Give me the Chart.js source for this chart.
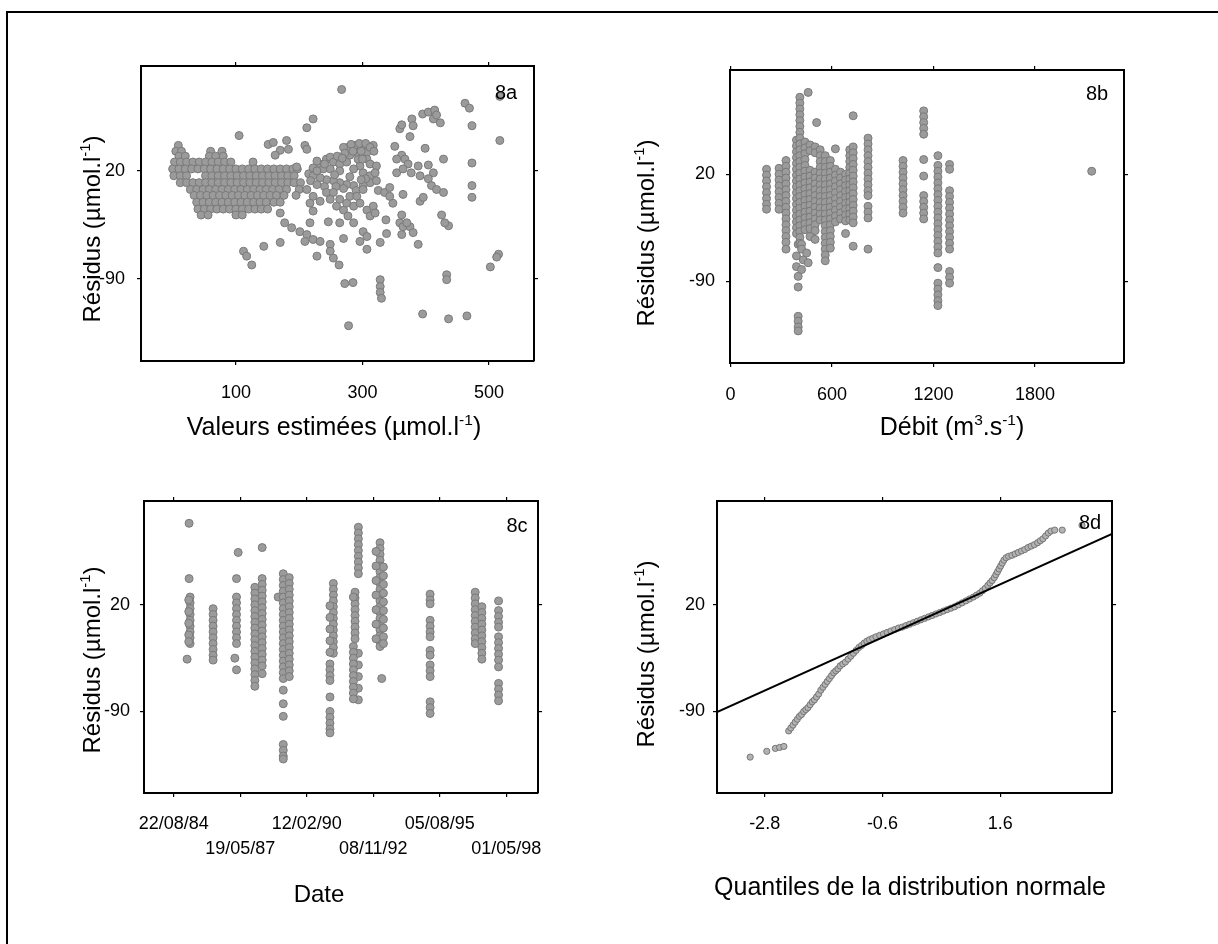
<!DOCTYPE html>
<html>
<head>
<meta charset="utf-8">
<script src="https://cdn.jsdelivr.net/npm/chart.js@4.4.1/dist/chart.umd.min.js"></script>
<style>
  html, body { margin: 0; padding: 0; background: #fff; }
  #page { position: relative; width: 1218px; height: 944px; overflow: hidden; background: #fff; }
  #page canvas { position: absolute; left: 0; top: 0; }
  #frame { position: absolute; left: 6px; top: 11px; width: 1240px; height: 960px; border-left: 2px solid #000; border-top: 2px solid #000; }
</style>
</head>
<body>
<div id="page">
  <div id="frame"></div>
  <canvas id="c8a" width="1218" height="944"></canvas>
  <canvas id="c8b" width="1218" height="944"></canvas>
  <canvas id="c8c" width="1218" height="944"></canvas>
  <canvas id="c8d" width="1218" height="944"></canvas>
</div>
<script>
// ---- data (residuals in µmol/l) ----
const residTicks = [20, -90];
const residRange = { min: -174, max: 127 };

// 8a: residuals vs estimated values
const estTicks = [100, 300, 500];
const estRange = { min: -50, max: 571 };
// dense cloud at low estimates, one row per residual level: [residual, [estimates]]
const estCloudRows = [
  [46, [9]],
  [40, [5, 14, 60, 78]],
  [35, [10, 20, 58, 68, 80]],
  [29, [3, 12, 22, 32, 42, 52, 62, 72, 82, 92, 127]],
  [22, [0, 10, 20, 30, 40, 50, 60, 70, 80, 90, 100, 110, 120, 130, 140, 150, 160, 170, 180, 190, 197]],
  [15, [2, 12, 22, 52, 62, 72, 82, 92, 102, 112, 122, 132, 142, 152, 162, 172, 182, 192]],
  [8, [12, 22, 32, 42, 52, 62, 72, 82, 92, 102, 112, 122, 132, 142, 152, 162, 172, 182, 192, 202]],
  [1, [28, 38, 48, 58, 68, 78, 88, 98, 108, 118, 128, 138, 148, 158, 168, 180, 200]],
  [-5, [34, 44, 54, 64, 74, 84, 94, 104, 114, 124, 134, 144, 154, 164, 176, 195]],
  [-12, [38, 48, 58, 68, 78, 88, 98, 108, 118, 128, 138, 148, 160, 170]],
  [-19, [40, 50, 60, 70, 80, 90, 100, 110, 120, 130, 140, 150]],
  [-25, [45, 56, 100, 110]],
];
// scattered points: [estimate, residual]
const estScatter = [
  [267, 103], [517, 96], [462, 89], [469, 84], [222, 73], [212, 64], [105, 56], [473, 66], [517, 51],
  [395, 78], [404, 80], [414, 82], [412, 73], [423, 69], [417, 77], [378, 73], [380, 66], [375, 55], [359, 63], [362, 67],
  [151, 47], [159, 49], [180, 51], [183, 42], [170, 41], [162, 36], [196, 24], [209, 46], [212, 42],
  [215, 17], [222, 23], [233, 27], [243, 32], [249, 34], [254, 29], [264, 27], [275, 29], [280, 36], [277, 44],
  [288, 46], [301, 46], [317, 46], [307, 39], [307, 32], [296, 25], [301, 18], [312, 15], [312, 8], [301, 5],
  [286, 5], [275, 6], [264, 8], [254, 10], [243, 11], [233, 13], [222, 15], [238, 22], [249, 22], [264, 20],
  [286, 22], [293, 32], [291, 39], [312, 27], [322, 25],
  [270, 44], [282, 47], [295, 48], [305, 48], [312, 44], [318, 40], [272, 38], [285, 40], [298, 40], [260, 35],
  [268, 33], [300, 32], [240, 27], [228, 20], [218, 10], [228, 6], [240, 4], [258, 4], [270, 2], [290, 0],
  [305, 12], [298, 11], [320, 18], [322, 10], [228, 30], [256, 16], [280, 14],
  [212, 1], [222, -6], [217, -13], [222, -21], [233, -11], [243, -2], [249, -9], [254, -2], [259, -16], [264, -9],
  [270, -20], [275, -13], [280, -6], [286, -16], [291, -6], [277, -26], [286, -33], [264, -33], [270, -49], [246, -32],
  [301, 1], [296, -13], [307, -20], [317, -16], [312, -26], [320, -23], [301, -42], [307, -47], [307, -60], [296, -52],
  [328, -53], [338, -44], [337, -30], [325, 0], [335, -2], [343, 3], [348, -13], [343, -6], [364, -4],
  [170, -23], [177, -33], [188, -38], [201, -42], [212, -45], [209, -52], [222, -50], [233, -52], [228, -67],
  [249, -55], [249, -62], [254, -69], [263, -76], [217, -33],
  [112, -62], [117, -67], [125, -76], [144, -57], [170, -53],
  [351, 45], [362, 36], [367, 32], [354, 32], [372, 27], [354, 18], [364, 22], [377, 18], [388, 25], [391, 15],
  [399, 43], [404, 26], [412, 18], [404, 12], [409, 5], [417, 1], [428, -2], [428, 32], [391, -11], [396, -7],
  [362, -25], [359, -33], [364, -37], [375, -37], [380, -43], [388, -55], [362, -45], [370, -33], [425, -25],
  [436, -36], [430, -33],
  [473, 28], [473, 5], [473, -7], [515, -65], [512, -68], [502, -78],
  [272, -95], [285, -94], [278, -138], [328, -91], [328, -98], [328, -104], [330, -110], [395, -126],
  [433, -86], [433, -91], [436, -131], [465, -128],
];

// 8b: residuals vs flow, one column per flow value: [flow, [residuals]]
const flowTicks = [0, 600, 1200, 1800];
const flowRange = { min: -3, max: 2326 };
const flowColumns = [
  [213, [25, 19, 13, 7, 1, -5, -11, -16]],
  [287, [26, 20, 14, 8, 2, -4, -10, -16]],
  [328, [34, 28, 22, 16, 10, 4, -2, -8, -14, -20, -26, -32, -38, -44, -50, -57]],
  [390, [55, 49, 43, 37, 31, 25, 19, 13, 7, 1, -5, -11, -17, -23, -29, -35, -41, -64, -75]],
  [400, [-52, -85, -96, -126, -131, -137, -141]],
  [410, [99, 93, 87, 81, 75, 69, 63, 57, 51, 45, 39, 33, 27, 21, 15, 9, 3, -3, -9, -15, -21, -27, -33, -39, -45, -51]],
  [420, [-52, -57, -78]],
  [430, [-68]],
  [440, [53, 47, 41, 35, 29, 23, 17, 11, 5, -1, -7, -13, -19, -25, -31, -37]],
  [450, [-61]],
  [459, [104, -71]],
  [470, [50, 44, 24, 18, 12, 6, 0, -6, -12, -18, -24, -30, -36, -44]],
  [500, [48, 42, 22, 16, 10, 4, -2, -8, -14, -20, -26, -32, -38, -47]],
  [509, [73]],
  [530, [45, 39, 33, 27, 21, 15, 9, 3, -3, -9, -15, -21, -27]],
  [560, [39, 33, 27, 21, 15, 9, 3, -3, -9, -15, -21, -27, -33, -39, -45, -51, -57, -63, -69]],
  [590, [34, 28, 22, 16, 10, 4, -2, -8, -14, -20, -26, -32, -38, -44, -50, -56]],
  [620, [46, 25, 19, 13, 7, 1, -5, -11, -17, -23, -29]],
  [650, [22, 16, 10, 4, -2, -8, -14, -20, -26]],
  [680, [20, 14, 8, 2, -4, -10, -16, -22, -28, -41]],
  [705, [45, 39, 33, 27, 21, 15, 9, 3, -3, -9, -15, -21, -27]],
  [725, [80, 48, 42, 36, 30, 24, 18, 12, 6, 0, -6, -12, -18, -24, -30, -54]],
  [813, [57, 51, 45, 39, 33, 27, 21, 15, 9, 3, -2, -13, -19, -25, -57]],
  [1020, [34, 28, 22, 16, 10, 4, -2, -8, -14, -20]],
  [1142, [85, 79, 73, 67, 61, 35, 18, -2, -8, -14, -20, -26]],
  [1226, [39, 29, 23, 17, 11, 5, -1, -7, -13, -19, -25, -31, -37, -43, -49, -55, -61, -76, -92, -98, -104, -110, -115]],
  [1295, [30, 25, 3, -3, -9, -15, -21, -27, -33, -39, -45, -51, -57, -80, -86, -92]],
  [2135, [23]],
];

// 8c: residuals vs date (days after 22/08/84)
const dateTicks = [0, 1000, 2000, 3000, 4000, 5000];
const dateTickLabels = ["22/08/84", "19/05/87", "12/02/90", "08/11/92", "05/08/95", "01/05/98"];
const dateRange = { min: -447, max: 5477 };
const dateColumns = [
  [231, [104, 47]],
  [246, [28, 22, 16, 10, 4, -2, -8, -14, -20]],
  [226, [25, 13, 1, -11, -18]],
  [201, [-36]],
  [592, [16, 10, 4, -2, -8, -14, -20, -26, -32, -37]],
  [969, [74]],
  [944, [47, 28, 22, 16, 10, 4, -2, -8, -14, -20, -47]],
  [919, [-35]],
  [1330, [79, 47, 41, 35, 29, 23, 17, 11, 5, -1, -7, -13, -19, -25, -31, -37, -43, -51]],
  [1220, [38, 32, 26, 20, 14, 8, 2, -4, -10, -16, -22, -28, -34, -40, -46, -52, -58, -64]],
  [1570, [28]],
  [1647, [52, 46, 40, 34, 28, 22, 16, 10, 4, -2, -8, -14, -20, -26, -32, -38, -44, -50, -56, -68, -82, -95, -124, -130, -136, -139]],
  [1737, [48, 42, 36, 30, 24, 18, 12, 6, 0, -6, -12, -18, -24, -30, -36, -42, -48, -54]],
  [2400, [42, 36, 30, 24, 18, 12, 6, 0, -6, -12, -18, -24, -30]],
  [2349, [19, 7, -5, -17, -29, -41, -47, -53, -58, -75, -90, -96, -102, -108, -112]],
  [2776, [100, 94, 88, 82, 76, 70, 64, 58, 52, -30, -42, -54, -66, -78]],
  [2726, [33, 27, 21, 15, 9, 3, -3, -9, -15]],
  [2701, [28, -23, -29, -35, -41, -47, -53, -59, -65, -71, -77]],
  [3102, [84, 78, 72, 66, 60, 54, 48, 42, 36, 30, 24, 18, 12, 6, 0, -6, -12, -18, -23]],
  [3153, [59, 50, 41, 32, 23, 14, 5, -4, -13, -20]],
  [3042, [75, 60, 45, 30, 15, 0, -15]],
  [3127, [-56]],
  [3855, [31, 25, 21, 4, -2, -8, -13, -27, -32, -42, -48, -54, -80, -86, -92]],
  [4533, [33, 27, 21, 15, 9, 3, -3, -9, -15, -20]],
  [4633, [18, 12, 6, 0, -6, -12, -18, -24, -30, -36]],
  [4884, [24, 14, 8, 2, -3, -13, -19, -25, -31, -37, -44, -61, -67, -73, -79]],
];

// 8d: normal QQ plot, [normal quantile, sorted residual]
const quantTicks = [-2.8, -0.6, 1.6];
const quantRange = { min: -3.69, max: 3.69 };
const qqPoints = [
  [-3.07, -137], [-2.76, -131], [-2.6, -128], [-2.52, -127], [-2.44, -126],
  [-2.35, -110], [-2.31, -107], [-2.27, -104], [-2.23, -101], [-2.19, -98], [-2.15, -95], [-2.11, -93],
  [-2.07, -90], [-2.03, -88], [-1.99, -86], [-1.95, -83], [-1.91, -80], [-1.87, -78], [-1.83, -75],
  [-1.79, -72], [-1.75, -68], [-1.71, -65], [-1.67, -62], [-1.63, -59], [-1.59, -56], [-1.55, -53],
  [-1.51, -50], [-1.47, -48], [-1.43, -46], [-1.39, -43], [-1.34, -41], [-1.29, -39], [-1.24, -36],
  [-1.19, -33], [-1.14, -30], [-1.09, -27], [-1.04, -24], [-0.99, -22], [-0.94, -19.5], [-0.89, -17.5],
  [-0.84, -16], [-0.78, -14.5], [-0.72, -13], [-0.65, -11.5], [-0.58, -10], [-0.51, -8.5], [-0.44, -7],
  [-0.37, -5.5], [-0.3, -4], [-0.23, -3], [-0.16, -1.5], [-0.09, 0], [-0.02, 1.5], [0.05, 3], [0.12, 4.5],
  [0.19, 6], [0.26, 7.5], [0.33, 9], [0.4, 10.5], [0.47, 12], [0.54, 13.5], [0.61, 15], [0.68, 16.5],
  [0.75, 18], [0.82, 20], [0.89, 22], [0.96, 24], [1.03, 26], [1.1, 28], [1.16, 30], [1.22, 32],
  [1.27, 34.5], [1.32, 37], [1.37, 40], [1.41, 42.5], [1.45, 45], [1.49, 48], [1.52, 51], [1.55, 54],
  [1.58, 57], [1.61, 60], [1.64, 63], [1.67, 66], [1.71, 68.5], [1.76, 70], [1.82, 71], [1.88, 72.5],
  [1.94, 74], [2.0, 75.5], [2.06, 77], [2.12, 79], [2.18, 80.5], [2.24, 82], [2.3, 84], [2.35, 86],
  [2.4, 88], [2.45, 91], [2.5, 94], [2.55, 96], [2.62, 97], [2.76, 97], [3.13, 102],
];
const qqLineX = [-3.69, 3.69];
const qqLineY = [-90.7, 93.1];

// ---- helpers ----
const FONT = "'Liberation Sans', Arial, Helvetica, sans-serif";
Chart.defaults.font.family = FONT;
Chart.defaults.color = "#000";
Chart.defaults.animation = false;
Chart.defaults.plugins.legend.display = false;
Chart.defaults.plugins.tooltip.enabled = false;

const fromColumns = (cols) => cols.flatMap(([x, ys]) => ys.map((y) => ({ x, y })));
const fromRows = (rows) => rows.flatMap(([y, xs]) => xs.map((x) => ({ x, y })));
const fromPairs = (pairs) => pairs.map(([x, y]) => ({ x, y }));

const EDGE = { display: true, color: "#000", width: 2 };
const MARKS = { drawOnChartArea: false, drawTicks: true, tickLength: 4, color: "#000", lineWidth: 1.2 };
const TICK_FONT = { size: 18 };

// one scale; labels = null for the unlabelled top/right copies
function scale(position, range, values, size, labels) {
  const horizontal = position === "top" || position === "bottom";
  return {
    type: "linear",
    position,
    min: range.min,
    max: range.max,
    bounds: "data",
    afterBuildTicks: (s) => { s.ticks = values.map((v) => ({ value: v })); },
    afterFit: (s) => { if (horizontal) s.height = size; else s.width = size; },
    border: EDGE,
    grid: MARKS,
    ticks: labels ? {
      autoSkip: false,
      maxRotation: 0,
      minRotation: 0,
      color: "#000",
      font: labels.font || TICK_FONT,
      padding: labels.padding,
      callback: labels.callback || ((v) => String(v)),
    } : { display: false },
  };
}

// chart area is placed by padding on a full-page canvas
function frameLayout(left, top, right, bottom) {
  return { padding: { left: left - 80, top: top - 6, right: 1218 - right - 6, bottom: 944 - bottom - 80 } };
}

function scalesFor(xRange, xTicks, xLabels, yPad) {
  return {
    x: scale("bottom", xRange, xTicks, 80, xLabels),
    x2: scale("top", xRange, xTicks, 6, null),
    y: scale("left", residRange, residTicks, 80, { padding: yPad }),
    y2: scale("right", residRange, residTicks, 6, null),
  };
}

// text drawn at a visual centre; parts: [text, superscript?]
function drawRich(ctx, t) {
  const size = t.size;
  ctx.save();
  ctx.translate(t.x, t.y);
  if (t.rotate) ctx.rotate(-Math.PI / 2);
  ctx.fillStyle = "#000";
  ctx.textBaseline = "alphabetic";
  const fontOf = (sup) => `${sup ? size * 0.62 : size}px ${FONT}`;
  const widths = t.parts.map(([s, sup]) => { ctx.font = fontOf(sup); return ctx.measureText(s).width; });
  const total = widths.reduce((a, b) => a + b, 0);
  let x = -total / 2;
  const base = size * 0.36;
  t.parts.forEach(([s, sup], i) => {
    ctx.font = fontOf(sup);
    ctx.fillText(s, x, sup ? base - size * 0.4 : base);
    x += widths[i];
  });
  ctx.restore();
}

const panelText = {
  id: "panelText",
  afterDraw(chart, args, opts) {
    (opts.items || []).forEach((t) => drawRich(chart.ctx, t));
  },
};

const RESID_TITLE = [["Résidus (µmol.l"], ["-1", true], [")"]];
const DOT = { pointRadius: 4, pointBackgroundColor: "#9b9b9b", pointBorderColor: "#7a7a7a", pointBorderWidth: 1, showLine: false };

function scatterPanel(id, datasets, layout, scales, items) {
  return new Chart(document.getElementById(id), {
    type: "scatter",
    data: { datasets },
    options: {
      responsive: false,
      devicePixelRatio: 1,
      layout,
      scales,
      plugins: { panelText: { items } },
    },
    plugins: [panelText],
  });
}

// ---- 8a ----
scatterPanel("c8a",
  [{ data: fromRows(estCloudRows).concat(fromPairs(estScatter)), ...DOT }],
  frameLayout(141, 66, 534, 361),
  scalesFor(estRange, estTicks, { padding: 17 }, 12),
  [
    { parts: RESID_TITLE, x: 91, y: 229, size: 24, rotate: true },
    { parts: [["Valeurs estimées (µmol.l"], ["-1", true], [")"]], x: 334, y: 426, size: 25 },
    { parts: [["8a"]], x: 506, y: 92, size: 20 },
  ]);

// ---- 8b ----
scatterPanel("c8b",
  [{ data: fromColumns(flowColumns), ...DOT }],
  frameLayout(730, 70, 1124, 363),
  scalesFor(flowRange, flowTicks, { padding: 17 }, 11),
  [
    { parts: RESID_TITLE, x: 645, y: 233, size: 24, rotate: true },
    { parts: [["Débit (m"], ["3", true], [".s"], ["-1", true], [")"]], x: 952, y: 426, size: 25 },
    { parts: [["8b"]], x: 1097, y: 93, size: 20 },
  ]);

// ---- 8c ----
scatterPanel("c8c",
  [{ data: fromColumns(dateColumns), ...DOT }],
  frameLayout(144, 501, 538, 793),
  scalesFor(dateRange, dateTicks, {
    padding: 15,
    font: { size: 18, lineHeight: 1.38 },
    callback: (v, i) => (i % 2 ? ["", dateTickLabels[i]] : dateTickLabels[i]),
  }, 10),
  [
    { parts: RESID_TITLE, x: 91, y: 660, size: 24, rotate: true },
    { parts: [["Date"]], x: 319, y: 893, size: 24 },
    { parts: [["8c"]], x: 517, y: 525, size: 20 },
  ]);

// ---- 8d ----
scatterPanel("c8d",
  [
    {
      data: qqLineX.map((x, i) => ({ x, y: qqLineY[i] })),
      showLine: true, borderColor: "#000", borderWidth: 2, pointRadius: 0,
    },
    {
      data: fromPairs(qqPoints), showLine: false,
      pointRadius: 3.1, pointBackgroundColor: "#b3b3b3", pointBorderColor: "#6e6e6e", pointBorderWidth: 0.9,
    },
  ],
  frameLayout(717, 501, 1112, 793),
  scalesFor(quantRange, quantTicks, { padding: 16.5 }, 8),
  [
    { parts: RESID_TITLE, x: 645, y: 654, size: 24, rotate: true },
    { parts: [["Quantiles de la distribution normale"]], x: 910, y: 886, size: 25 },
    { parts: [["8d"]], x: 1090, y: 522, size: 20 },
  ]);
</script>
</body>
</html>
